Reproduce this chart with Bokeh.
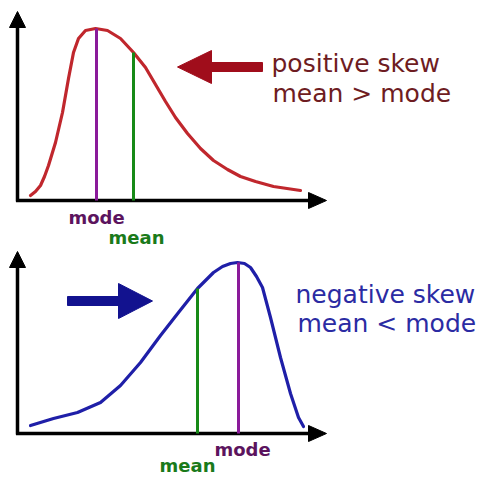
from bokeh.plotting import figure
from bokeh.models import Range1d
from bokeh.core.properties import value
from bokeh.embed import file_html
from bokeh.resources import INLINE

# ---- data ----
# positive skew curve: x positions and heights above the axis
pos_x = [30, 35, 40, 44, 48, 55, 62, 68, 73, 78, 85, 95, 107, 120, 133, 145, 155, 165, 175, 187, 200, 213, 227, 240, 255, 273, 300]
pos_h = [5, 9, 15, 24, 35, 58, 88, 122, 148, 162, 170, 172, 170, 162, 148, 133, 116, 99, 83, 67, 52, 40, 31, 24, 19, 14, 10]
pos_mode_x, pos_mode_h = 96, 172
pos_mean_x, pos_mean_h = 133, 148

# negative skew curve
neg_x = [30, 53, 77, 100, 120, 140, 160, 178, 197, 213, 222, 230, 237, 244, 250, 256, 262, 270, 280, 290, 298, 303]
neg_h = [8, 15, 21, 31, 48, 71, 98, 121, 145, 161, 167, 170, 171, 170, 166, 157, 146, 116, 76, 40, 16, 7]
neg_mean_x, neg_mean_h = 197, 145
neg_mode_x, neg_mode_h = 238, 171

pos_title = ["positive skew", "mean > mode"]
neg_title = ["negative skew", "mean < mode"]
label_mode = "mode"
label_mean = "mean"

# ---- layout (pixel coordinates, origin top-left) ----
W, H = 483, 477
TOP_BASE = 200
BOT_BASE = 433
AXIS_X = 17
AXIS_END = 326
TITLE_DY = -8   # text baseline correction
LABEL_DY = -6

RED_CURVE = "#c0272d"
RED_ARROW = "#a00d1b"
RED_TEXT = "#6e1c22"
BLUE_CURVE = "#1f1fa8"
BLUE_ARROW = "#12128f"
BLUE_TEXT = "#2b2ba3"
PURPLE_LINE = "#8a1a9a"
PURPLE_TEXT = "#5c145e"
GREEN_LINE = "#178a17"
GREEN_TEXT = "#1a7a1a"
FONT = value("DejaVu Sans")

p = figure(width=W, height=H, x_range=Range1d(0, W), y_range=Range1d(H, 0),
           output_backend="svg", toolbar_location=None, min_border=0,
           x_axis_location=None, y_axis_location=None,
           background_fill_color="white", border_fill_color="white",
           outline_line_color=None)
p.xgrid.visible = False
p.ygrid.visible = False


def axes(base, top):
    # vertical axis
    p.segment(x0=[AXIS_X], y0=[base + 1], x1=[AXIS_X], y1=[top + 12], line_color="black", line_width=3.5)
    p.patch(x=[AXIS_X - 8, AXIS_X, AXIS_X + 8], y=[top + 16, top, top + 16], color="black")
    # horizontal axis
    p.segment(x0=[AXIS_X - 1.5], y0=[base], x1=[AXIS_END - 14], y1=[base], line_color="black", line_width=3.5)
    p.patch(x=[AXIS_END - 18, AXIS_END, AXIS_END - 18], y=[base - 8, base, base + 8], color="black")


axes(TOP_BASE, 11)
axes(BOT_BASE, 251)

# curves
p.line(pos_x, [TOP_BASE - h for h in pos_h], line_color=RED_CURVE, line_width=3.2, line_join="round", line_cap="round")
p.line(neg_x, [BOT_BASE - h for h in neg_h], line_color=BLUE_CURVE, line_width=3.2, line_join="round", line_cap="round")

# mode / mean lines
p.segment(x0=[pos_mode_x], y0=[TOP_BASE], x1=[pos_mode_x], y1=[TOP_BASE - pos_mode_h], line_color=PURPLE_LINE, line_width=3)
p.segment(x0=[pos_mean_x], y0=[TOP_BASE], x1=[pos_mean_x], y1=[TOP_BASE - pos_mean_h], line_color=GREEN_LINE, line_width=3)
p.segment(x0=[neg_mean_x], y0=[BOT_BASE], x1=[neg_mean_x], y1=[BOT_BASE - neg_mean_h], line_color=GREEN_LINE, line_width=3)
p.segment(x0=[neg_mode_x], y0=[BOT_BASE], x1=[neg_mode_x], y1=[BOT_BASE - neg_mode_h], line_color=PURPLE_LINE, line_width=3)

# labels under the axes
lab = dict(text_font=FONT, text_font_size="18px", text_font_style="bold",
           text_align="center", text_baseline="alphabetic")
p.text(x=[pos_mode_x], y=[223 + LABEL_DY], text=[label_mode], text_color=PURPLE_TEXT, **lab)
p.text(x=[pos_mean_x + 3], y=[243 + LABEL_DY], text=[label_mean], text_color=GREEN_TEXT, **lab)
p.text(x=[neg_mode_x + 4], y=[455 + LABEL_DY], text=[label_mode], text_color=PURPLE_TEXT, **lab)
p.text(x=[neg_mean_x - 10], y=[471 + LABEL_DY], text=[label_mean], text_color=GREEN_TEXT, **lab)

# big arrows
p.quad(left=[210], right=[262], top=[62], bottom=[71], color=RED_ARROW)
p.patch(x=[177, 211, 211], y=[66.5, 50, 83], color=RED_ARROW)
p.quad(left=[67], right=[119], top=[296], bottom=[305], color=BLUE_ARROW)
p.patch(x=[118, 152, 118], y=[283, 300.5, 318], color=BLUE_ARROW)

# titles
p.text(x=[271, 272], y=[71 + TITLE_DY, 101 + TITLE_DY], text=pos_title, text_color=RED_TEXT, text_font=FONT,
       text_font_size="25px", text_align="left", text_baseline="alphabetic")
p.text(x=[295, 297], y=[302 + TITLE_DY, 331 + TITLE_DY], text=neg_title, text_color=BLUE_TEXT, text_font=FONT,
       text_font_size="25px", text_align="left", text_baseline="alphabetic")

open("out.html", "w").write(file_html(p, INLINE))
